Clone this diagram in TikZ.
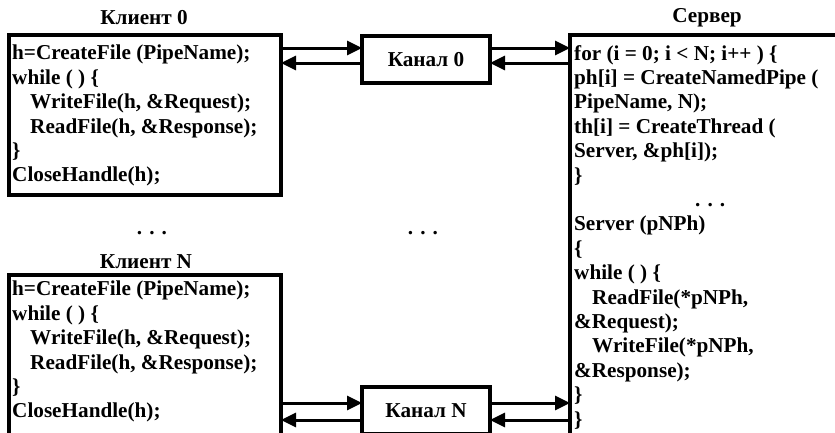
\documentclass[tikz,border=0pt]{standalone}
\usepackage{fontspec}
\setmainfont{Liberation Serif}
\usetikzlibrary{arrows.meta,positioning,calc}

\newcommand{\codefont}{\fontsize{21.2}{24.4}\selectfont\bfseries}
\newcommand{\ind}{\hspace*{18pt}}

\begin{document}
\begin{tikzpicture}[x=1pt,y=-1pt,
    box/.style={draw, line width=3.5pt, anchor=north west, inner sep=0pt, outer sep=0pt},
    code/.style={anchor=north west, inner sep=0pt, align=left, font=\codefont},
    title/.style={inner sep=0pt, font=\codefont},
    pipe/.style={line width=3pt, -{Triangle[length=15pt,width=14pt]}}]
    \useasboundingbox[fill=white] (0,0) rectangle (835,432);

    % Clients
    \node[box, minimum width=272pt, minimum height=160pt] (c0) at (9,35) {};
    \node[box, minimum width=272pt, minimum height=160pt] (cN) at (9,275) {};
    \node[title] (c0title) at (144,18) {Клиент 0};
    \node[title] (cNtitle) at (146,262) {Клиент N};

    \node[code] (c0code) at ([xshift=3pt,yshift=-10pt]c0.north west) {h=CreateFile (PipeName);\\
        while ( ) \{\\
        \ind WriteFile(h, \&Request);\\
        \ind ReadFile(h, \&Response);\\
        \}\\
        CloseHandle(h);};
    \node[code] (cNcode) at ([xshift=3pt,yshift=-6pt]cN.north west) {h=CreateFile (PipeName);\\
        while ( ) \{\\
        \ind WriteFile(h, \&Request);\\
        \ind ReadFile(h, \&Response);\\
        \}\\
        CloseHandle(h);};

    % Pipes
    \node[box, minimum width=128pt, minimum height=47pt, font=\codefont] (k0) at (362,36) {Канал 0};
    \node[box, minimum width=128pt, minimum height=47pt, font=\codefont] (kN) at (362,387) {Канал N};

    % Server
    \node[box, minimum width=400pt, minimum height=500pt] (srv) at (570,35) {};
    \node[title] (srvtitle) at (707,18) {Сервер};
    \node[code] (srvcode) at ([xshift=4pt,yshift=-10pt]srv.north west) {for (i = 0; i < N; i++ ) \{\\
        ph[i] = CreateNamedPipe (\\
        PipeName, N);\\
        th[i] = CreateThread (\\
        Server, \&ph[i]);\\
        \}\\
        \hspace*{121pt}. . .\\
        Server (pNPh)\\
        \{\\
        while ( ) \{\\
        \ind ReadFile(*pNPh,\\
        \&Request);\\
        \ind WriteFile(*pNPh,\\
        \&Response);\\
        \}\\
        \}};

    % dots between rows
    \node[title] (dotsc) at (152,233) {. . .};
    \node[title] (dotsk) at (423,233) {. . .};

    % arrow levels
    \coordinate (a0) at ([yshift=-12pt]k0.north);
    \coordinate (b0) at ([yshift=-27pt]k0.north);
    \coordinate (aN) at ([yshift=-16pt]kN.north);
    \coordinate (bN) at ([yshift=-33pt]kN.north);

    \draw[pipe] (c0.east |- a0) -- (k0.west |- a0);
    \draw[pipe] (k0.west |- b0) -- (c0.east |- b0);
    \draw[pipe] (k0.east |- a0) -- (srv.west |- a0);
    \draw[pipe] (srv.west |- b0) -- (k0.east |- b0);

    \draw[pipe] (cN.east |- aN) -- (kN.west |- aN);
    \draw[pipe] (kN.west |- bN) -- (cN.east |- bN);
    \draw[pipe] (kN.east |- aN) -- (srv.west |- aN);
    \draw[pipe] (srv.west |- bN) -- (kN.east |- bN);
\end{tikzpicture}
\end{document}
